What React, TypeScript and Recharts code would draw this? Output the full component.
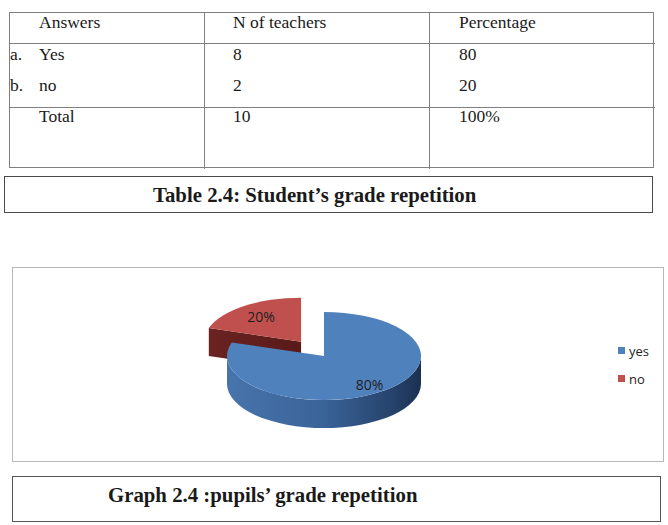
import React from 'react';
import { PieChart, Pie, Cell, Legend } from 'recharts';

// table content
const tableHeaders = ['Answers', 'N of teachers', 'Percentage'];
const answerMarks = ['a.', 'b.'];
const answerLabels = ['Yes', 'no'];
const teacherCounts = ['8', '2'];
const percentageValues = ['80', '20'];
const totalRow = ['Total', '10', '100%'];
const tableCaption = 'Table 2.4: Student\u2019s grade repetition';

// chart content
const categories = ['yes', 'no'];
const shares = [80, 20];
const graphCaption = 'Graph 2.4 :pupils\u2019 grade repetition';

const COLORS: Record<string, string> = { yes: '#4F81BD', no: '#C0504D' };
const EXPLODE: Record<string, number> = { yes: 0, no: 39 };
const LABEL_R: Record<string, number> = { yes: 0.8, no: 0.7 };

const RAD = Math.PI / 180;
const TILT = 0.454; // ry / rx of the tilted pie
const DEPTH = 28;

const SERIF = '"Liberation Serif", "Times New Roman", serif';
const SANS = '"Open Sans", "Noto Sans", sans-serif';

// excel draws the first point from 12 o'clock clockwise; we paint the back slice first
const total = shares.reduce((a, b) => a + b, 0);
const pieData = categories.map((name, i) => ({ name, value: shares[i] })).reverse();
const startAngle = 90 + (360 * pieData[0].value) / total;

const ellipsePt = (cx: number, cy: number, r: number, a: number, dy = 0) => [
  cx + r * Math.cos(a * RAD),
  cy - r * TILT * Math.sin(a * RAD) + dy,
];

const renderSlice = (props: any) => {
  const { cx, cy, outerRadius, startAngle: sa, endAngle: ea, midAngle, name, percent } = props;
  const r = outerRadius;
  const ry = r * TILT;
  const ex = EXPLODE[name] ?? 0;
  const ox = cx + ex * Math.cos(midAngle * RAD);
  const oy = cy - ex * TILT * Math.sin(midAngle * RAD);
  const hi = Math.max(sa, ea);
  const lo = Math.min(sa, ea);
  const P = (a: number, dy = 0) => {
    const [x, y] = ellipsePt(ox, oy, r, a, dy);
    return `${x.toFixed(2)},${y.toFixed(2)}`;
  };

  const cuts: string[] = [];
  if (Math.sin((hi + 90) * RAD) < -0.01)
    cuts.push(`M${ox},${oy} L${P(hi)} L${P(hi, DEPTH)} L${ox},${oy + DEPTH} Z`);
  if (Math.sin((lo - 90) * RAD) < -0.01)
    cuts.push(`M${ox},${oy} L${P(lo)} L${P(lo, DEPTH)} L${ox},${oy + DEPTH} Z`);

  const walls: string[] = [];
  for (let k = -2; k <= 2; k++) {
    const a1 = Math.max(lo, -180 + 360 * k);
    const a2 = Math.min(hi, 360 * k);
    if (a2 - a1 > 0.01) {
      const large = a2 - a1 > 180 ? 1 : 0;
      walls.push(
        `M${P(a1)} A${r},${ry} 0 ${large} 0 ${P(a2)} L${P(a2, DEPTH)} A${r},${ry} 0 ${large} 1 ${P(a1, DEPTH)} Z`
      );
    }
  }

  const top = `M${ox},${oy} L${P(hi)} A${r},${ry} 0 ${hi - lo > 180 ? 1 : 0} 1 ${P(lo)} Z`;
  const [lx, ly] = ellipsePt(ox, oy, r * (LABEL_R[name] ?? 0.8), midAngle);

  return (
    <g>
      {cuts.map((d, i) => (
        <path key={`c${i}`} d={d} fill={`url(#cut-${name})`} />
      ))}
      {walls.map((d, i) => (
        <path key={`w${i}`} d={d} fill={`url(#wall-${name})`} />
      ))}
      <path d={top} fill={COLORS[name]} />
      <text
        x={lx}
        y={ly}
        textAnchor="middle"
        dominantBaseline="central"
        fontFamily={SANS}
        fontSize={14}
        fill="#1f1f1f"
      >
        {`${Math.round(percent * 100)}%`}
      </text>
    </g>
  );
};

const renderLegend = () => (
  <div style={{ position: 'relative', width: 50, height: 40 }}>
    {categories.map((name, i) => (
      <div key={name}>
        <div
          style={{
            position: 'absolute',
            left: 0,
            top: i * 27.5,
            width: 7,
            height: 7,
            background: COLORS[name],
          }}
        />
        <div
          style={{
            position: 'absolute',
            left: 11,
            top: i * 27.5 - 4,
            fontFamily: SANS,
            fontSize: 13,
            lineHeight: '17px',
            color: '#222',
          }}
        >
          {name}
        </div>
      </div>
    ))}
  </div>
);

const Txt = ({ x, base, children }: { x: number; base: number; children: React.ReactNode }) => (
  <div
    style={{
      position: 'absolute',
      left: x,
      top: base - 14.66,
      fontFamily: SERIF,
      fontSize: 17.5,
      lineHeight: '17.5px',
      color: '#1a1a1a',
      whiteSpace: 'nowrap',
    }}
  >
    {children}
  </div>
);

const Line = ({ x, y, w, h, color = '#808080' }: any) => (
  <div style={{ position: 'absolute', left: x, top: y, width: w, height: h, background: color }} />
);

const Caption = ({ x, base, children }: { x: number; base: number; children: React.ReactNode }) => (
  <div
    style={{
      position: 'absolute',
      left: x,
      top: base - 17.4,
      fontFamily: SERIF,
      fontWeight: 'bold',
      fontSize: 20.8,
      lineHeight: '20.8px',
      color: '#1a1a1a',
      whiteSpace: 'nowrap',
    }}
  >
    {children}
  </div>
);

const colX = [39, 233, 459];
const rowBase = [61, 92];

export default function App() {
  return (
    <div style={{ position: 'absolute', left: 0, top: 0, width: 668, height: 525, background: '#fff', overflow: 'hidden' }}>
      {/* table grid */}
      <div style={{ position: 'absolute', left: 9, top: 12, width: 643, height: 154, border: '1.5px solid #808080' }} />
      <Line x={203.5} y={12} w={1.5} h={157} />
      <Line x={428.5} y={12} w={1.5} h={157} />
      <Line x={9} y={42.5} w={646} h={1.5} />
      <Line x={9} y={106.5} w={646} h={1.5} />

      {tableHeaders.map((h, i) => (
        <Txt key={h} x={colX[i]} base={29}>
          {h}
        </Txt>
      ))}
      {answerLabels.map((a, i) => (
        <React.Fragment key={a}>
          <Txt x={10} base={rowBase[i]}>{answerMarks[i]}</Txt>
          <Txt x={colX[0]} base={rowBase[i]}>{a}</Txt>
          <Txt x={colX[1]} base={rowBase[i]}>{teacherCounts[i]}</Txt>
          <Txt x={colX[2]} base={rowBase[i]}>{percentageValues[i]}</Txt>
        </React.Fragment>
      ))}
      {totalRow.map((t, i) => (
        <Txt key={t} x={colX[i]} base={123}>
          {t}
        </Txt>
      ))}

      {/* table caption */}
      <div style={{ position: 'absolute', left: 4, top: 176, width: 647, height: 35, border: '1.5px solid #4a4a4a' }} />
      <Caption x={153} base={202}>{tableCaption}</Caption>

      {/* chart frame */}
      <div style={{ position: 'absolute', left: 12, top: 267, width: 650, height: 193, border: '1.5px solid #b8b8b8' }} />
      <div style={{ position: 'absolute', left: 12, top: 267 }}>
        <PieChart width={652} height={195} margin={{ top: 0, right: 0, bottom: 0, left: 0 }}>
          <defs>
            <linearGradient id="wall-yes" x1="0" y1="0" x2="1" y2="0">
              <stop offset="0" stopColor="#4774AC" />
              <stop offset="0.5" stopColor="#3A6398" />
              <stop offset="0.85" stopColor="#26436C" />
              <stop offset="1" stopColor="#1C3151" />
            </linearGradient>
            <linearGradient id="cut-no" x1="0" y1="0" x2="1" y2="0">
              <stop offset="0" stopColor="#6A2321" />
              <stop offset="1" stopColor="#581a19" />
            </linearGradient>
            <linearGradient id="wall-no" x1="0" y1="0" x2="1" y2="0">
              <stop offset="0" stopColor="#8E3331" />
              <stop offset="1" stopColor="#5a1b1a" />
            </linearGradient>
            <linearGradient id="cut-yes" x1="0" y1="0" x2="1" y2="0">
              <stop offset="0" stopColor="#3A6398" />
              <stop offset="1" stopColor="#26436C" />
            </linearGradient>
          </defs>
          <Pie
            data={pieData}
            dataKey="value"
            nameKey="name"
            cx={312}
            cy={89}
            outerRadius={97}
            startAngle={startAngle}
            endAngle={startAngle - 360}
            stroke="none"
            label={renderSlice}
            labelLine={false}
            isAnimationActive={false}
          >
            {pieData.map((d) => (
              <Cell key={d.name} fill="transparent" />
            ))}
          </Pie>
          <Legend content={renderLegend} wrapperStyle={{ position: 'absolute', left: 606, top: 80, width: 50, height: 40 }} />
        </PieChart>
      </div>

      {/* graph caption */}
      <div style={{ position: 'absolute', left: 12, top: 476, width: 647, height: 44, border: '1.5px solid #555' }} />
      <Caption x={108} base={502}>{graphCaption}</Caption>
    </div>
  );
}
